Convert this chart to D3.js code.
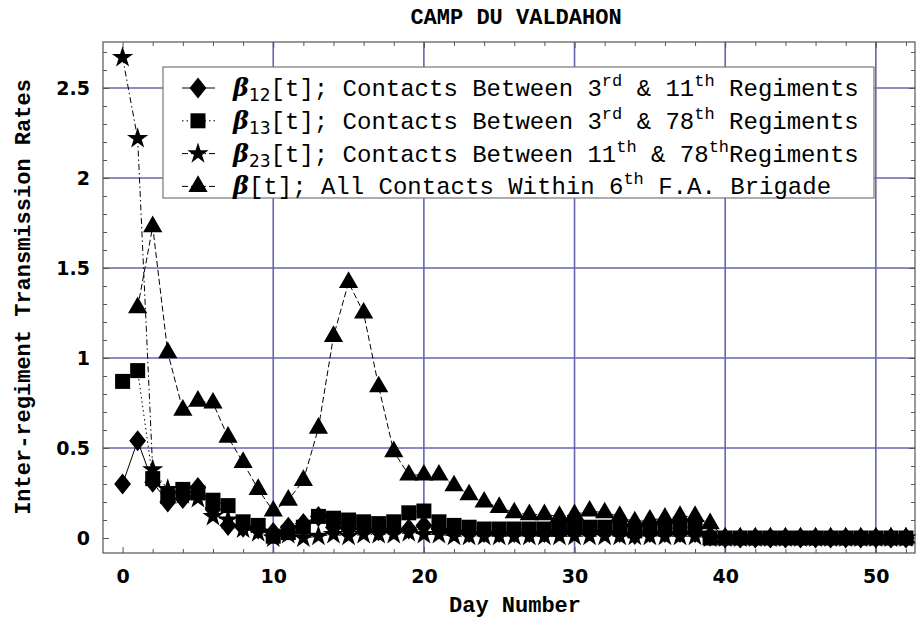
<!DOCTYPE html>
<html><head><meta charset="utf-8">
<script src="https://cdn.jsdelivr.net/npm/d3@7"></script>
<style>body{margin:0;background:#fff}</style>
</head><body>
<svg id="c" width="917" height="623"></svg>
<script>
// ---------- data ----------
const days = [0,1,2,3,4,5,6,7,8,9,10,11,12,13,14,15,16,17,18,19,20,21,22,23,24,25,26,27,28,29,30,31,32,33,34,35,36,37,38,39,40,41,42,43,44,45,46,47,48,49,50,51,52];
const beta12 = [0.30,0.54,0.31,0.20,0.22,0.28,0.16,0.07,0.06,0.05, 0.03,0.06,0.08,0.12,0.06,0.05,0.05,0.04,0.05,0.05, 0.07,0.05,0.04,0.03,0.03,0.03,0.03,0.03,0.03,0.04, 0.04,0.04,0.04,0.03,0.02,0.03,0.03,0.03,0.03,0.01, 0,0,0,0,0,0,0,0,0,0, 0,0,0];
const beta13 = [0.87,0.93,0.33,0.23,0.27,0.25,0.21,0.18,0.09,0.07, 0.01,0.03,0.06,0.12,0.11,0.10,0.09,0.08,0.09,0.14, 0.15,0.09,0.07,0.06,0.05,0.05,0.05,0.05,0.05,0.05, 0.06,0.06,0.06,0.05,0.04,0.05,0.05,0.06,0.06,0.00, 0,0,0,0,0,0,0,0,0,0, 0,0,0];
const beta23 = [2.67,2.22,0.38,0.27,0.24,0.22,0.12,0.10,0.05,0.03, 0.00,0.02,0.00,0.01,0.02,0.01,0.02,0.02,0.02,0.03, 0.02,0.02,0.01,0.01,0.01,0.01,0.01,0.01,0.01,0.01, 0.01,0.01,0.01,0.01,0.01,0.01,0.01,0.01,0.01,0.00, 0,0,0,0,0,0,0,0,0,0, 0,0,0];
const betaAll = [null,1.28,1.73,1.03,0.71,0.76,0.75,0.56,0.42,0.27, 0.15,0.21,0.32,0.61,1.12,1.42,1.25,0.84,0.48,0.35, 0.35,0.35,0.29,0.24,0.20,0.17,0.14,0.13,0.13,0.12, 0.13,0.15,0.14,0.12,0.09,0.10,0.11,0.12,0.12,0.08, 0,0,0,0,0,0,0,0,0,0, 0,0,0];
const xMajorTicks = [0,10,20,30,40,50];
const yMajorTicks = [0,0.5,1,1.5,2,2.5];
const yTickLabels = ["0","0.5","1","1.5","2","2.5"];
const xGrid = [10,20,30,40,50];
const yGrid = [0.5,1,1.5,2,2.5];
const title = "CAMP DU VALDAHON";
const xLabel = "Day Number";
const yLabel = "Inter-regiment Transmission Rates";

// ---------- layout ----------
const L=103, R=915, T=42, B=553;
const svg = d3.select("#c");
const x = d3.scaleLinear().domain([-1.3,52.6]).range([L,R]);
const y = d3.scaleLinear().domain([-0.0833,2.7556]).range([B,T]);

const gridCol = "#6565b2", frameCol = "#555";
const tickFont = "'DejaVu Sans', sans-serif";
const monoFont = "'Liberation Mono', 'DejaVu Sans Mono', monospace";

// grid
svg.append("g").selectAll("line").data(xGrid).join("line")
  .attr("x1",d=>x(d)).attr("x2",d=>x(d)).attr("y1",T).attr("y2",B)
  .attr("stroke",gridCol).attr("stroke-width",1.6);
svg.append("g").selectAll("line").data(yGrid).join("line")
  .attr("y1",d=>y(d)).attr("y2",d=>y(d)).attr("x1",L).attr("x2",R)
  .attr("stroke",gridCol).attr("stroke-width",1.6);

// axes
const xMinor = days.filter(d=>d%2===0 && d%10!==0);
const yMinor = d3.range(0,28).map(i=>+(i*0.1).toFixed(1)).filter(v=>Math.abs(v*2-Math.round(v*2))>1e-6);
function styleAxis(g){ g.select(".domain").remove(); g.selectAll(".tick line").attr("stroke",frameCol); }

svg.append("g").attr("transform",`translate(0,${B})`)
  .call(d3.axisBottom(x).tickValues(xMajorTicks).tickSize(-6).tickPadding(17).tickFormat(d3.format("d")))
  .call(styleAxis)
  .call(g=>g.selectAll("text").attr("font-family",tickFont).attr("font-weight","bold").attr("font-size",19).attr("fill","#000"));
svg.append("g").attr("transform",`translate(0,${B})`)
  .call(d3.axisBottom(x).tickValues(xMinor).tickSize(-4).tickFormat("")).call(styleAxis);
svg.append("g").attr("transform",`translate(0,${T})`)
  .call(d3.axisTop(x).tickValues(xMajorTicks).tickSize(-6).tickFormat("")).call(styleAxis);
svg.append("g").attr("transform",`translate(0,${T})`)
  .call(d3.axisTop(x).tickValues(xMinor).tickSize(-4).tickFormat("")).call(styleAxis);

svg.append("g").attr("transform",`translate(${L},0)`)
  .call(d3.axisLeft(y).tickValues(yMajorTicks).tickSize(-6).tickPadding(13).tickFormat((d,i)=>yTickLabels[i]))
  .call(styleAxis)
  .call(g=>g.selectAll("text").attr("font-family",tickFont).attr("font-weight","bold").attr("font-size",19).attr("fill","#000"));
svg.append("g").attr("transform",`translate(${L},0)`)
  .call(d3.axisLeft(y).tickValues(yMinor).tickSize(-4).tickFormat("")).call(styleAxis);
svg.append("g").attr("transform",`translate(${R},0)`)
  .call(d3.axisRight(y).tickValues(yMajorTicks).tickSize(-6).tickFormat("")).call(styleAxis);
svg.append("g").attr("transform",`translate(${R},0)`)
  .call(d3.axisRight(y).tickValues(yMinor).tickSize(-4).tickFormat("")).call(styleAxis);

// frame
svg.append("rect").attr("x",L).attr("y",T).attr("width",R-L).attr("height",B-T)
  .attr("fill","none").attr("stroke",frameCol).attr("stroke-width",1.2);

// symbols
const diamondType = {draw(ctx,size){const h=Math.sqrt(size)*0.75, w=h*0.8; ctx.moveTo(0,-h);ctx.lineTo(w,0);ctx.lineTo(0,h);ctx.lineTo(-w,0);ctx.closePath();}};
const series = [
  {vals:beta12, sym:d3.symbol().type(diamondType).size(196), dash:null},
  {vals:beta13, sym:d3.symbol().type(d3.symbolSquare).size(225), dash:"1.5,3"},
  {vals:beta23, sym:d3.symbol().type(d3.symbolStar).size(140), dash:"6,3,1.5,3"},
  {vals:betaAll, sym:d3.symbol().type(d3.symbolTriangle).size(160), dash:"6,3"}
];
const line = d3.line().defined(d=>d[1]!=null).x(d=>x(d[0])).y(d=>y(d[1]));
series.forEach(s=>{
  const pts = days.map((d,i)=>[d,s.vals[i]]).filter(p=>p[1]!=null);
  svg.append("path").datum(pts).attr("d",line).attr("fill","none")
    .attr("stroke","#000").attr("stroke-width",1).attr("stroke-dasharray",s.dash);
  svg.append("g").selectAll("path").data(pts).join("path")
    .attr("transform",p=>`translate(${x(p[0])},${y(p[1])})`).attr("d",s.sym()).attr("fill","#000");
});

// legend
const lg = svg.append("g");
lg.append("rect").attr("x",163).attr("y",67).attr("width",711).attr("height",131)
  .attr("fill","#fff").attr("stroke","#777").attr("stroke-width",1.2);
const legendRows = [
  {sub:"12", parts:[["[t]; Contacts Between 3",0],["rd",1],[" & 11",0],["th",1],[" Regiments",0]]},
  {sub:"13", parts:[["[t]; Contacts Between 3",0],["rd",1],[" & 78",0],["th",1],[" Regiments",0]]},
  {sub:"23", parts:[["[t]; Contacts Between 11",0],["th",1],[" & 78",0],["th",1],["Regiments",0]]},
  {sub:"", parts:[["[t]; All Contacts Within 6",0],["th",1],[" F.A. Brigade",0]]}
];
legendRows.forEach((r,i)=>{
  const cy = 88 + i*32.8;
  const s = series[i];
  lg.append("line").attr("x1",182).attr("x2",215).attr("y1",cy).attr("y2",cy)
    .attr("stroke","#000").attr("stroke-width",1).attr("stroke-dasharray",s.dash);
  lg.append("path").attr("transform",`translate(198,${cy})`).attr("d",s.sym()).attr("fill","#000");
  const t = lg.append("text").attr("x",233).attr("y",cy+8).attr("font-family",monoFont).attr("font-size",24).attr("fill","#000").attr("xml:space","preserve");
  t.append("tspan").text("β").attr("font-family","'DejaVu Serif', serif").attr("font-weight","bold").attr("font-style","italic");
  let shift = 0;
  if(r.sub){ t.append("tspan").text(r.sub).attr("font-size",17).attr("font-family","'DejaVu Sans', sans-serif").attr("dy",5); shift = 5; }
  r.parts.forEach(([txt,sup])=>{
    const target = sup ? -10 : 0;
    t.append("tspan").text(txt).attr("font-size",sup?17:24).attr("dy",target-shift);
    shift = target;
  });
});

// labels
svg.append("text").attr("x",516).attr("y",24).attr("text-anchor","middle")
  .attr("font-family",monoFont).attr("font-weight","bold").attr("font-size",22).text(title);
svg.append("text").attr("x",515).attr("y",612).attr("text-anchor","middle")
  .attr("font-family",monoFont).attr("font-weight","bold").attr("font-size",22).text(xLabel);
svg.append("text").attr("transform","translate(30,297) rotate(-90)").attr("text-anchor","middle")
  .attr("font-family",monoFont).attr("font-weight","bold").attr("font-size",22).text(yLabel);
</script>
</body></html>
